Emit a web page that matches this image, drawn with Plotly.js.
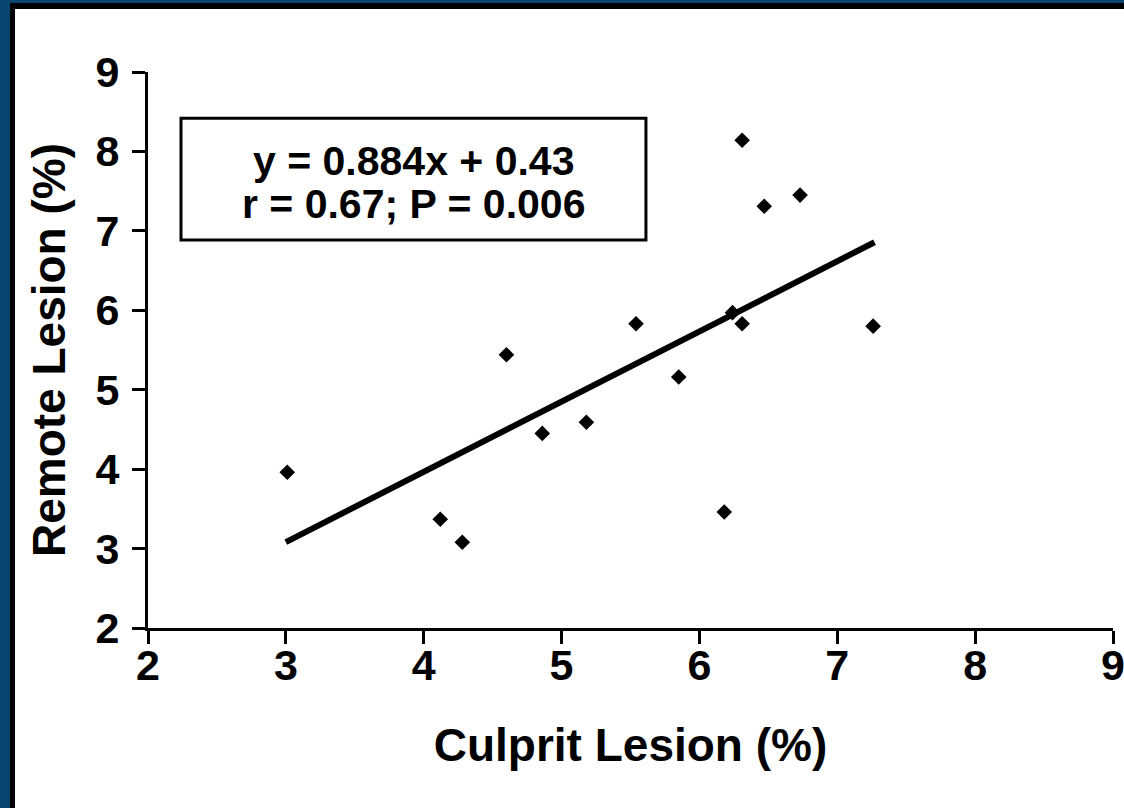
<!DOCTYPE html>
<html>
<head>
<meta charset="utf-8">
<script src="https://cdn.plot.ly/plotly-3.0.1.min.js"></script>
<style>
  html, body { margin: 0; padding: 0; background: #ffffff; overflow: hidden; }
  #frame { position: absolute; left: 0; top: 0; width: 1124px; height: 808px;
           box-sizing: border-box; border-left: 10px solid #0a4570; border-top: 3px solid #0a4570; }
  #inner { box-sizing: border-box; width: 1114px; height: 805px;
           border-left: 5px solid #000; border-top: 6px solid #000; background: #fff; }
  #chart { width: 1109px; height: 799px; }
</style>
</head>
<body>
<div id="frame"><div id="inner"><div id="chart"></div></div></div>
<script>
// Data
const culpritLesion = [3.01, 4.12, 4.28, 4.60, 4.86, 5.18, 5.54, 5.85, 6.18, 6.24, 6.31, 6.31, 6.47, 6.73, 7.26];
const remoteLesion  = [3.96, 3.37, 3.08, 5.44, 4.45, 4.59, 5.83, 5.16, 3.46, 5.97, 5.83, 8.14, 7.31, 7.45, 5.80];
const slope = 0.884;
const intercept = 0.43;
const fitX = [3.0, 7.27];
const fitY = fitX.map(v => slope * v + intercept);
const tickVals = [2, 3, 4, 5, 6, 7, 8, 9];
const equationText = "y = 0.884x + 0.43";
const statsText = "r = 0.67; P = 0.006";

const fontFam = "Liberation Sans, Arial, Helvetica, sans-serif";

const traces = [
  {
    x: fitX, y: fitY, type: "scatter", mode: "lines",
    line: { color: "#000000", width: 6 }, hoverinfo: "skip", showlegend: false
  },
  {
    x: culpritLesion, y: remoteLesion, type: "scatter", mode: "markers",
    marker: { symbol: "diamond", size: 12, color: "#000000" }, showlegend: false
  }
];

const axisCommon = {
  range: [2, 9], tickvals: tickVals, ticktext: tickVals.map(String),
  showgrid: false, zeroline: false, showline: true, linecolor: "#000000", linewidth: 3,
  ticks: "outside", ticklen: 13, tickwidth: 3, tickcolor: "#000000",
  tickfont: { family: fontFam, size: 43, color: "#000000", weight: "bold" },
  ticklabeloverflow: "allow",
  fixedrange: true
};

const layout = {
  width: 1109, height: 799,
  margin: { l: 133, r: 11, t: 63, b: 180 },
  paper_bgcolor: "#ffffff", plot_bgcolor: "#ffffff",
  xaxis: Object.assign({}, axisCommon, {
    ticklabelstandoff: -16,
    title: { text: "Culprit Lesion (%)", standoff: 42,
             font: { family: fontFam, size: 46, color: "#000000", weight: "bold" } }
  }),
  yaxis: Object.assign({}, axisCommon, {
    ticklabelstandoff: 4,
    title: { text: "Remote Lesion (%)", standoff: 16,
             font: { family: fontFam, size: 46, color: "#000000", weight: "bold" } }
  }),
  shapes: [
    { type: "rect", xref: "paper", yref: "paper", x0: 0.0342, x1: 0.516, y0: 0.698, y1: 0.917,
      line: { color: "#000000", width: 3 }, fillcolor: "rgba(0,0,0,0)" }
  ],
  annotations: [
    { xref: "paper", yref: "paper", x: 0.275, y: 0.840, text: equationText, showarrow: false,
      xanchor: "center", yanchor: "middle",
      font: { family: fontFam, size: 41, color: "#000000", weight: "bold" } },
    { xref: "paper", yref: "paper", x: 0.275, y: 0.762, text: statsText, showarrow: false,
      xanchor: "center", yanchor: "middle",
      font: { family: fontFam, size: 41, color: "#000000", weight: "bold" } }
  ]
};

Plotly.newPlot("chart", traces, layout, { displayModeBar: false, staticPlot: true });
</script>
</body>
</html>
